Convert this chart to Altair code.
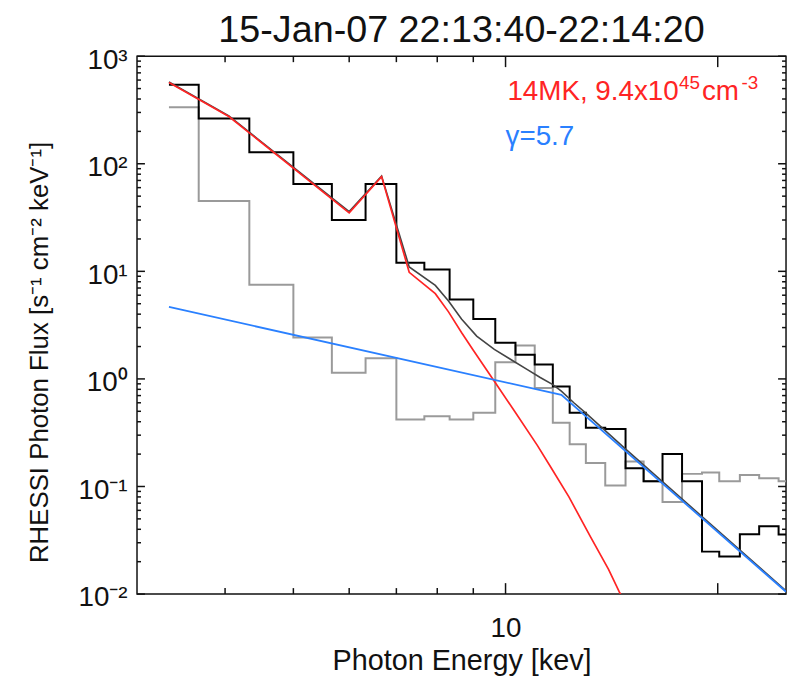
import altair as alt
import pandas as pd

# ---------------- data ----------------
# histogram bin edges (keV): left edges + final right edge
edges = [3.33, 3.67, 4.33, 5.0, 5.67, 6.33, 7.0, 7.67, 8.33, 9.0, 9.67, 10.33,
         11.0, 11.67, 12.33, 13.0, 13.85, 14.8, 15.7, 16.7, 17.8, 19.0, 20.1,
         21.5, 22.9, 24.4, 25.0]
# observed spectrum (black histogram)
black_flux = [543, 264, 128, 65, 30, 65, 12.0, 10.4, 5.46, 3.6, 2.17, 1.68,
              1.36, 0.85, 0.485, 0.352, 0.343, 0.148, 0.112, 0.2, 0.112,
              0.0248, 0.0223, 0.036, 0.0427, 0.0358]
# background (grey histogram)
gray_flux = [336, 45, 7.5, 2.43, 1.14, 1.56, 0.42, 0.45, 0.42, 0.485, 1.43,
             2.04, 0.824, 0.392, 0.247, 0.165, 0.102, 0.171, 0.112, 0.0716,
             0.131, 0.135, 0.112, 0.128, 0.119, 0.112]
# thermal model (red)
red_E = [3.33, 4.05, 6.0, 6.67, 7.3, 7.95, 8.3, 8.66, 9.0, 9.64, 10.3, 11.1,
         11.6, 12.3, 13.2, 14.0, 14.5, 14.8]
red_F = [570, 275, 35, 76, 9.8, 6.2, 4.2, 2.7, 1.85, 0.95, 0.5, 0.24, 0.15,
         0.08, 0.034, 0.017, 0.0105, 0.0082]
# broken power law (blue)
blue_E = [3.33, 12.0, 25.0]
blue_F = [4.67, 0.71, 0.0105]
# total model (thin dark line)
tot_E = [3.33, 4.05, 6.0, 6.67, 7.3, 7.95, 8.3, 8.66, 9.1, 9.64, 10.2, 10.74,
         11.2, 11.67, 12.0, 12.5, 13.0, 14.78, 25.0]
tot_F = [575, 278, 36, 77, 11, 7.4, 5.3, 3.6, 2.5, 1.88, 1.5, 1.22, 1.03,
         0.885, 0.77, 0.6, 0.48, 0.225, 0.0107]

# axis ticks
x_major = [10, 20]
x_minor = [4, 5, 6, 7, 8, 9]
y_major = [0.01, 0.1, 1, 10, 100, 1000]
y_major_labels = ["10⁻²", "10⁻¹", "10⁰", "10¹", "10²", "10³"]
y_minor = [m * d for d in [0.01, 0.1, 1, 10, 100] for m in range(2, 10)]

title_text = "15-Jan-07 22:13:40-22:14:20"
# thermal label pieces: base text, superscript, base text, superscript
thermal_parts = ["14MK, 9.4x10", "45", "cm", "-3"]
power_label = "γ=5.7"

# ---------------- styling ----------------
FONT = "Liberation Sans"
RED = "#ff2424"
BLUE = "#2a80ff"
GRAY = "#9a9a9a"
W, H = 654, 542

xs = alt.Scale(type="log", domain=[3, 25], nice=False)
ys = alt.Scale(type="log", domain=[0.01, 1000], nice=False)

expr = "'" + y_major_labels[-1] + "'"
for v, lab in reversed(list(zip(y_major[:-1], y_major_labels[:-1]))):
    expr = f"datum.value < {v * 3} ? '{lab}' : ({expr})"

x_axis = alt.Axis(values=[10], title="Photon Energy [kev]", format="d",
                  labelFontSize=28, titleFontSize=29, tickSize=0, domain=False,
                  grid=False, labelPadding=21, titlePadding=4,
                  labelFont=FONT, titleFont=FONT, titleFontWeight="normal",
                  labelColor="#111", titleColor="#111")
y_axis = alt.Axis(values=y_major, labelExpr=expr, title="RHESSI Photon Flux [s⁻¹ cm⁻² keV⁻¹]",
                  labelFontSize=28, titleFontSize=26, tickSize=0, domain=False,
                  grid=False, labelPadding=10, labelOffset=4,
                  labelFont=FONT, titleFont=FONT, titleFontWeight="normal",
                  labelColor="#111", titleColor="#111",
                  titleX=-98, titleY=298, titleAlign="center",
                  titleBaseline="middle", titleAngle=270)


def X(field):
    return alt.X(field, scale=xs, axis=x_axis)


def Y(field):
    return alt.Y(field, scale=ys, axis=y_axis)


def steps(e, v):
    return pd.DataFrame({"E": e, "F": list(v) + [v[-1]]})


gray = alt.Chart(steps(edges, gray_flux)).mark_line(
    interpolate="step-after", color=GRAY, strokeWidth=2
).encode(x=X("E:Q"), y=Y("F:Q"))

black = alt.Chart(steps(edges, black_flux)).mark_line(
    interpolate="step-after", color="#000000", strokeWidth=2
).encode(x=X("E:Q"), y=Y("F:Q"))

total = alt.Chart(pd.DataFrame({"E": tot_E, "F": tot_F})).mark_line(
    color="#444444", strokeWidth=1.6
).encode(x=X("E:Q"), y=Y("F:Q"))

red = alt.Chart(pd.DataFrame({"E": red_E, "F": red_F})).mark_line(
    color=RED, strokeWidth=1.7, clip=True
).encode(x=X("E:Q"), y=Y("F:Q"))

blue = alt.Chart(pd.DataFrame({"E": blue_E, "F": blue_F})).mark_line(
    color=BLUE, strokeWidth=1.8, clip=True
).encode(x=X("E:Q"), y=Y("F:Q"))

# thermal annotation, built from pieces so the exponents are true superscripts
anchor_red = pd.DataFrame({"E": [10.06], "F": [390]})
piece_style = [  # (font size, dx, dy)
    (28, 0, 0),
    (19, 173, -11),
    (28, 196, 0),
    (19, 236, -11),
]
txt_red = []
for part, (fs, dx, dy) in zip(thermal_parts, piece_style):
    txt_red.append(
        alt.Chart(anchor_red.assign(t=part)).mark_text(
            align="left", baseline="alphabetic", fontSize=fs, font=FONT,
            color=RED, dx=dx, dy=dy
        ).encode(x=X("E:Q"), y=Y("F:Q"), text="t:N")
    )

txt_blue = alt.Chart(pd.DataFrame({"E": [10.0], "F": [150], "t": [power_label]})).mark_text(
    align="left", baseline="alphabetic", fontSize=28, font=FONT, color=BLUE
).encode(x=X("E:Q"), y=Y("F:Q"), text="t:N")

# inward ticks on all four sides
TC = "#111111"


def xticks(vals, length):
    d = pd.DataFrame({"E": vals})
    bot = alt.Chart(d).mark_rule(color=TC, strokeWidth=1.5).encode(
        x=X("E:Q"), y=alt.value(H), y2=alt.value(H - length))
    top = alt.Chart(d).mark_rule(color=TC, strokeWidth=1.5).encode(
        x=X("E:Q"), y=alt.value(0), y2=alt.value(length))
    return [bot, top]


def yticks(vals, length):
    d = pd.DataFrame({"F": vals})
    left = alt.Chart(d).mark_rule(color=TC, strokeWidth=1.5).encode(
        y=Y("F:Q"), x=alt.value(0), x2=alt.value(length))
    right = alt.Chart(d).mark_rule(color=TC, strokeWidth=1.5).encode(
        y=Y("F:Q"), x=alt.value(W), x2=alt.value(W - length))
    return [left, right]


tick_layers = xticks(x_major, 11) + xticks(x_minor, 6) + yticks(y_major, 8) + yticks(y_minor, 4)

chart = alt.layer(
    gray, black, total, red, blue, *txt_red, txt_blue, *tick_layers
).properties(
    width=W, height=H,
    title=alt.TitleParams(title_text, fontSize=38, font=FONT, fontWeight="normal",
                          anchor="middle", offset=0, dy=4, color="#111"),
    padding={"left": 130, "top": 46, "right": 3, "bottom": 80},
    autosize=alt.AutoSizeParams(type="none"),
).configure_view(stroke="#111111", strokeWidth=1.5)

chart.save("out.html", embed_options={"renderer": "svg", "actions": False})
